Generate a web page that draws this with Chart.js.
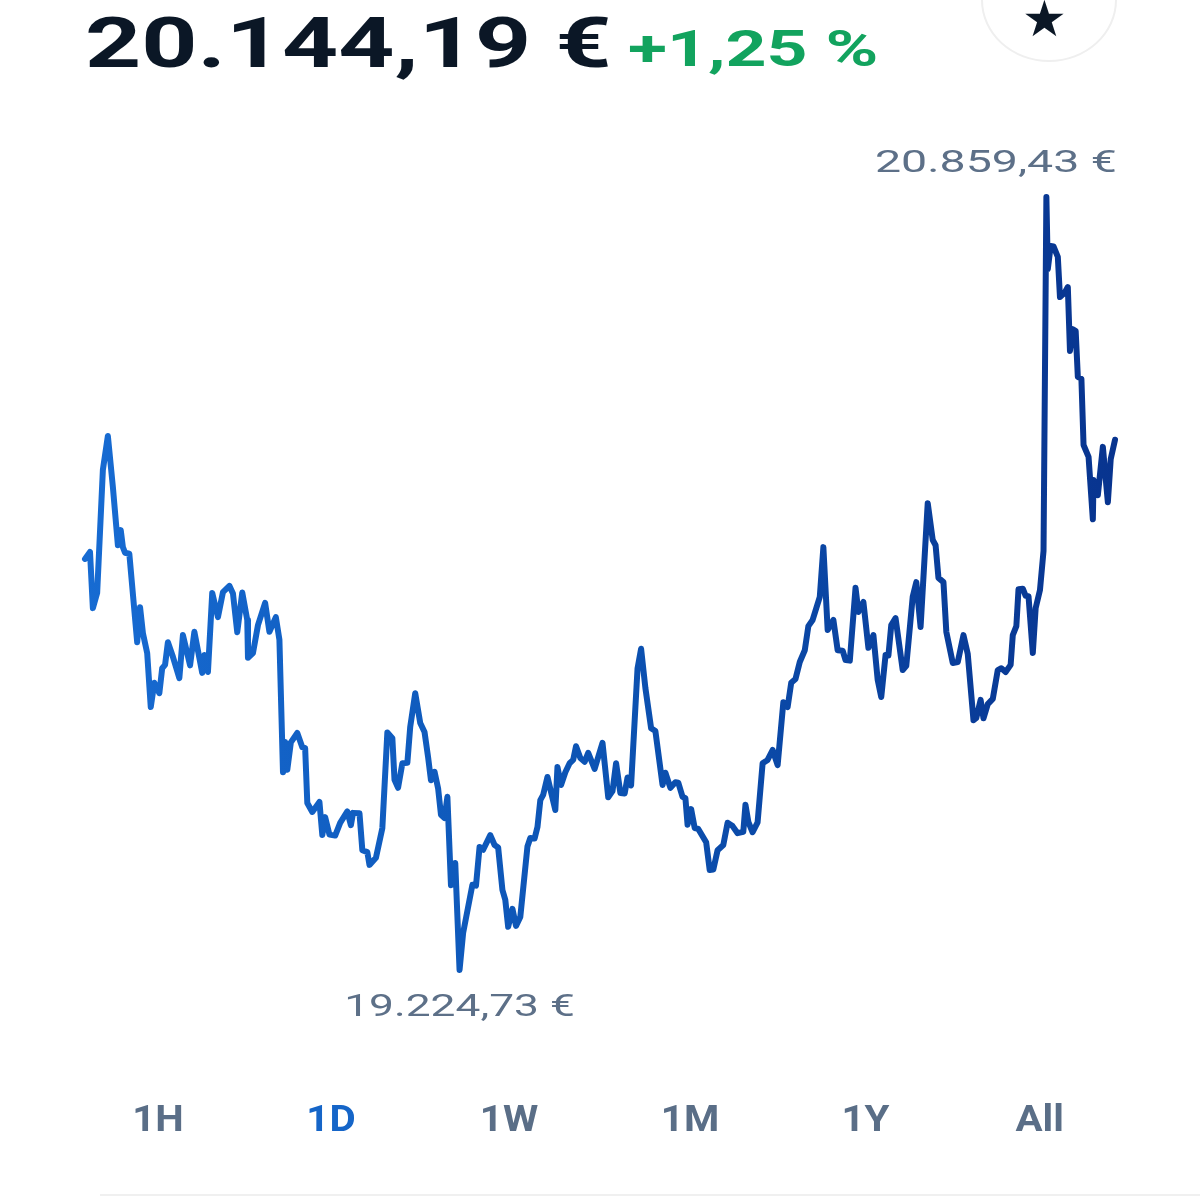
<!DOCTYPE html>
<html>
<head>
<meta charset="utf-8">
<script src="https://cdn.jsdelivr.net/npm/chart.js@4.4.1/dist/chart.umd.min.js"></script>
<style>
  html, body { margin: 0; padding: 0; background: #ffffff; }
  body { width: 1200px; height: 1200px; position: relative; overflow: hidden; font-family: Roboto, "Noto Sans", sans-serif; }
  #chart { position: absolute; left: 0; top: 0; }
  .txt { position: absolute; white-space: nowrap; transform-origin: 0 0; line-height: 1; }
  #price { left: 85px; top: 8px; font-size: 70px; font-weight: 700; color: #0b1726; transform: scaleX(1.40); }
  #change { left: 628px; top: 24px; font-size: 50px; font-weight: 700; color: #12a35e; transform: scaleX(1.43); }
  #starCircle { position: absolute; left: 981px; top: -62px; width: 136px; height: 124px; border: 2px solid #efefef; border-radius: 50%; box-sizing: border-box; }
  #star { position: absolute; left: 1022px; top: -6px; font-size: 50px; color: #0b1726; font-family: "DejaVu Sans", sans-serif; line-height: 1; }
  .tab { position: absolute; top: 1101px; font-size: 36px; font-weight: 700; color: #5a6e87; transform-origin: 50% 0; line-height: 1; white-space: nowrap; }
  .tab.active { color: #1565c8; }
  #bottomLine { position: absolute; left: 100px; top: 1194px; width: 1100px; height: 2px; background: #f0f0f0; }
</style>
</head>
<body>
<canvas id="chart" width="1200" height="1200"></canvas>
<div id="price" class="txt"></div>
<div id="change" class="txt"></div>
<div id="starCircle"></div>
<div id="star">★</div>
<div id="tabs"></div>
<div id="bottomLine"></div>
<script>
// ---- Header texts ----
const currentPrice = "20.144,19 €";
const changeText = "+1,25 %";
const tabLabels = ["1H", "1D", "1W", "1M", "1Y", "All"];
const activeTab = "1D";

// ---- Series: minutes since start of the day, price in EUR ----
const times = [
  0, 7, 11, 17, 25, 32, 39, 46, 50, 53, 56, 62, 73, 77, 81, 87, 92, 97, 104, 108,
  112, 116, 123, 132, 137, 147, 153, 164, 167, 172, 178, 186, 193, 202, 207, 213, 220, 227, 228, 235,
  242, 252, 258, 267, 272, 277, 280, 283, 288, 297, 304, 308, 311, 318, 328, 332, 336, 342, 350, 357,
  367, 372, 375, 384, 388, 395, 398, 407, 416, 423, 430, 433, 438, 444, 451, 455, 462, 469, 475, 480,
  484, 489, 494, 498, 503, 507, 512, 518, 524, 529, 542, 547, 552, 557, 567, 573, 578, 584, 588, 592,
  598, 603, 609, 619, 623, 629, 633, 637, 641, 647, 658, 661, 666, 672, 678, 683, 687, 693, 699, 704,
  713, 724, 732, 738, 743, 749, 755, 759, 764, 773, 778, 784, 792, 798, 808, 812, 819, 826, 830, 836,
  840, 843, 848, 853, 858, 869, 874, 879, 885, 893, 899, 906, 913, 921, 924, 928, 934, 941, 948, 955,
  962, 969, 977, 983, 988, 994, 1000, 1007, 1012, 1018, 1028, 1033, 1039, 1047, 1053, 1060, 1064, 1070, 1078, 1082,
  1089, 1096, 1103, 1109, 1114, 1120, 1124, 1128, 1134, 1144, 1149, 1158, 1163, 1169, 1179, 1186, 1190, 1194, 1201, 1205,
  1214, 1221, 1229, 1235, 1243, 1247, 1253, 1257, 1263, 1270, 1277, 1282, 1288, 1295, 1298, 1303, 1306, 1312, 1316, 1320,
  1326, 1330, 1336, 1341, 1345, 1347, 1351, 1355, 1361, 1364, 1371, 1375, 1378, 1382, 1386, 1389, 1394, 1397, 1404, 1410,
  1411, 1417, 1424, 1431, 1435, 1441
];
const prices = [
  20094, 20109, 19990, 20022, 20282, 20354, 20246, 20123, 20155, 20119, 20107, 20105, 19918, 19992, 19937, 19895, 19781, 19832, 19810, 19863,
  19870, 19918, 19887, 19842, 19933, 19869, 19940, 19853, 19891, 19855, 20022, 19971, 20024, 20037, 20021, 19939, 20023, 19965, 19885, 19895,
  19954, 20001, 19940, 19971, 19923, 19643, 19707, 19648, 19706, 19726, 19696, 19694, 19578, 19559, 19580, 19510, 19548, 19511, 19509, 19536,
  19560, 19531, 19557, 19556, 19478, 19474, 19447, 19462, 19525, 19727, 19715, 19627, 19610, 19662, 19663, 19739, 19810, 19747, 19728, 19675,
  19626, 19644, 19609, 19553, 19546, 19591, 19404, 19451, 19224.73, 19303, 19405, 19403, 19485, 19479, 19510, 19489, 19484, 19394, 19373, 19316,
  19354, 19318, 19337, 19486, 19504, 19503, 19527, 19584, 19595, 19633, 19563, 19654, 19616, 19643, 19662, 19669, 19698, 19673, 19665, 19684,
  19650, 19705, 19590, 19603, 19662, 19599, 19598, 19632, 19615, 19862, 19904, 19821, 19736, 19730, 19616, 19642, 19610, 19622, 19621, 19591,
  19588, 19532, 19565, 19525, 19523, 19495, 19436, 19437, 19478, 19489, 19536, 19529, 19514, 19517, 19574, 19538, 19516, 19537, 19662, 19669,
  19690, 19658, 19791, 19781, 19832, 19840, 19876, 19901, 19952, 19965, 20014, 20119, 19944, 19965, 19901, 19900, 19880, 19879, 20033, 19982,
  20003, 19906, 19933, 19838, 19802, 19891, 19890, 19954, 19969, 19859, 19868, 20014, 20045, 19950, 20212, 20134, 20123, 20054, 20045, 19940,
  19874, 19876, 19933, 19893, 19753, 19758, 19796, 19757, 19787, 19798, 19859, 19863, 19855, 19870, 19933, 19952, 20030, 20031, 20016, 20015,
  19895, 19990, 20028, 20111, 20859.43, 20707, 20756, 20755, 20733, 20648, 20658, 20669, 20534, 20580, 20576, 20479, 20475, 20335, 20310, 20178,
  20261, 20229, 20331, 20214, 20305, 20346
];

// ---- DOM text ----
document.getElementById('price').textContent = currentPrice;
document.getElementById('change').textContent = changeText;
const tabCenters = [158, 331, 509, 690, 865, 1040];
const tabsEl = document.getElementById('tabs');
tabLabels.forEach((t, i) => {
  const d = document.createElement('div');
  d.className = 'tab' + (t === activeTab ? ' active' : '');
  d.textContent = t;
  tabsEl.appendChild(d);
  const w = d.getBoundingClientRect().width;
  d.style.left = (tabCenters[i] - w / 2) + 'px';
  d.style.transform = 'scaleX(1.12)';
});

// ---- Chart ----
const points = times.map((t, i) => ({ x: t, y: prices[i] }));
const fmtDE = v => {
  const parts = v.toFixed(2).split('.');
  return parts[0].replace(/\B(?=(\d{3})+(?!\d))/g, '.') + ',' + parts[1] + ' €';
};

const extremesPlugin = {
  id: 'extremes',
  afterDatasetsDraw(chart) {
    const { ctx, chartArea, scales } = chart;
    let minI = 0, maxI = 0;
    prices.forEach((p, i) => { if (p < prices[minI]) minI = i; if (p > prices[maxI]) maxI = i; });
    ctx.save();
    ctx.font = '400 31px Roboto, "Noto Sans", sans-serif';
    ctx.fillStyle = '#5d7088';
    ctx.textBaseline = 'alphabetic';
    const draw = (idx, dy, SX) => {
      const txt = fmtDE(prices[idx]);
      const w = ctx.measureText(txt).width * SX;
      const px = scales.x.getPixelForValue(times[idx]);
      const py = scales.y.getPixelForValue(prices[idx]);
      let left = px - w / 2;
      if (left + w > chartArea.right + 2) left = chartArea.right + 2 - w;
      if (left < chartArea.left) left = chartArea.left;
      ctx.save();
      ctx.translate(left, py + dy);
      ctx.scale(SX, 1);
      ctx.fillText(txt, 0, 0);
      ctx.restore();
    };
    draw(maxI, -25, 1.50);
    draw(minI, 46, 1.43);
    ctx.restore();
  }
};

new Chart(document.getElementById('chart'), {
  type: 'line',
  data: {
    datasets: [{
      data: points,
      borderWidth: 6,
      pointRadius: 0,
      tension: 0,
      fill: false,
      clip: false,
      borderJoinStyle: 'round',
      borderCapStyle: 'round',
      borderColor: (c) => {
        const { chart } = c;
        const area = chart.chartArea;
        if (!area) return '#0c52b2';
        const g = chart.ctx.createLinearGradient(area.left, 0, area.right, 0);
        g.addColorStop(0, '#176bd2');
        g.addColorStop(0.5, '#0c53b3');
        g.addColorStop(1, '#08348f');
        return g;
      }
    }]
  },
  options: {
    responsive: false,
    devicePixelRatio: 1,
    animation: false,
    layout: { padding: { left: 85, right: 85, top: 197, bottom: 230 } },
    plugins: { legend: { display: false }, tooltip: { enabled: false }, title: { display: false } },
    scales: {
      x: { type: 'linear', display: false, min: times[0], max: times[times.length - 1] },
      y: { type: 'linear', display: false, min: Math.min(...prices), max: Math.max(...prices) }
    }
  },
  plugins: [extremesPlugin]
});
</script>
</body>
</html>
